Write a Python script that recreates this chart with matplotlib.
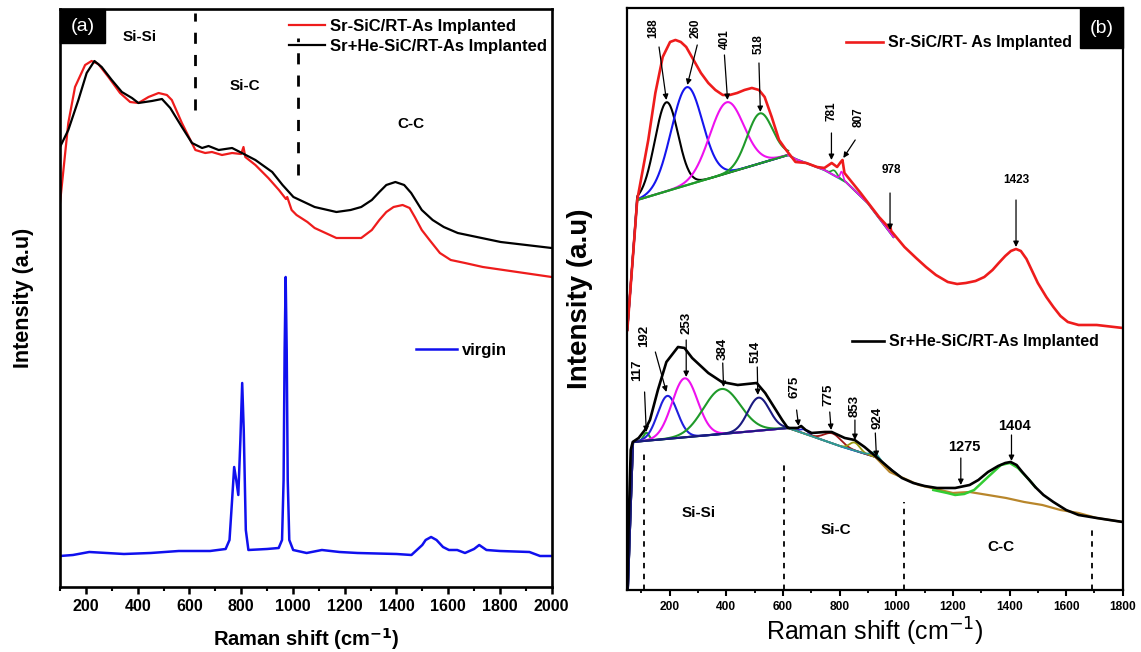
import numpy as np
import matplotlib.pyplot as plt
from matplotlib.patches import Rectangle

plt.rcParams['font.family'] = ['Liberation Sans', 'DejaVu Sans']

# ---------------- panel (a): full spectra ----------------
sr_x = [100, 132, 158, 197, 222, 248, 287, 332, 371, 403, 442, 481, 513, 532, 571, 623, 661,
        687, 726, 765, 800, 809, 816, 855, 905, 946, 973, 978, 995, 1014, 1056, 1084, 1126,
        1168, 1264, 1305, 1334, 1361, 1389, 1424, 1451, 1471, 1498, 1528, 1568, 1610, 1665,
        1734, 2000]
sr_y = [384, 464, 500, 522, 526, 523, 510, 494, 485, 484, 490, 494, 492, 487, 464, 437, 434,
        435, 432, 434, 433, 440, 430, 422, 409, 397, 388, 390, 377, 372, 365, 359, 354,
        349, 349, 357, 367, 375, 380, 382, 379, 370, 357, 347, 334, 327, 324,
        320, 310]

srhe_x = [100, 132, 171, 203, 233, 261, 300, 339, 378, 403, 455, 494, 526, 571, 610, 649, 674,
          713, 765, 803, 855, 920, 960, 1002, 1043, 1084, 1168, 1223, 1264, 1305, 1334, 1361,
          1396, 1430, 1457, 1498, 1540, 1583, 1637, 1803, 2000]
srhe_y = [440, 457, 487, 514, 526, 520, 507, 495, 489, 484, 486, 488, 479, 460, 444, 439, 441,
          437, 439, 434, 427, 415, 402, 390, 385, 380, 375, 377, 380, 387, 395, 402,
          405, 402, 394, 377, 367, 360, 354, 345, 339]

virgin_x = [100, 150, 213, 280, 347, 450, 559, 680, 740, 755, 765, 773, 781, 789, 797, 804, 810,
            818, 828, 900, 945, 958, 964, 968, 972, 976, 980, 986, 1001, 1053, 1112, 1180,
            1250, 1400, 1458, 1479, 1500, 1513, 1534, 1555, 1580, 1603, 1635, 1665, 1700,
            1720, 1748, 1800, 1914, 1955, 2000]
virgin_y = [31, 32, 35, 34, 33, 34, 36, 36, 38, 47, 87, 120, 107, 92, 147, 204, 157,
            57, 37, 38, 39, 47, 107, 237, 310, 237, 107, 47, 37, 34, 37, 35,
            34, 33, 32, 37, 42, 47, 50, 47, 40, 37, 37, 34, 38,
            42, 37, 36, 35, 31, 31]

a_bounds = [620, 1020]
a_bound_lo = [477, 412]
a_bound_hi = [574, 549]
a_regions = ['Si-Si', 'Si-C', 'C-C']
a_region_x = [407, 815, 1455]
a_region_y = [550, 501, 463]

# ---------------- panel (b): deconvoluted spectra ----------------
up_x = [50, 85, 124, 149, 175, 201, 220, 239, 258, 284, 310, 336, 361, 387, 412, 438, 464,
        490, 515, 535, 560, 586, 611, 644, 682, 720, 746, 772, 791, 804, 810, 817, 874,
        939, 975, 978, 982, 1029, 1070, 1105, 1140, 1182, 1215, 1246, 1280, 1311, 1340,
        1362, 1385, 1405, 1423, 1440, 1460, 1480, 1500, 1530, 1555, 1580, 1606, 1644,
        1708, 1800]
up_y = [260, 390, 450, 497, 533, 548, 550, 548, 543, 530, 517, 507, 500, 495, 495, 497, 500,
        502, 500, 493, 473, 450, 440, 428, 427, 423, 422, 427, 423, 428, 430, 417, 397,
        373, 362, 365, 359, 343, 332, 323, 315, 308, 306, 307, 309, 313, 320,
        327, 334, 339, 341, 339, 331, 319, 307, 293, 283, 274, 268, 265,
        265, 262]

up_base_x = [50, 85, 618]
up_base_y = [260, 390, 435]
up_peaks = [188, 260, 401, 518]
up_amp = [89, 98, 71, 50]
up_sigma = [41, 55, 60, 45]
up_colors = ['black', '#1515ee', '#ee11ee', '#1f9a2a']

# fit background above 600 cm-1 for the upper spectrum
up_tail_x = [618, 644, 700, 746, 822, 899, 990]
up_tail_y = [435, 431, 425, 420, 408, 387, 353]
up_small_peaks = [781, 807]
up_small_amp = [5, 8]
up_small_sigma = [10, 5]
up_small_colors = ['#1f9a2a', '#ee11ee']

lo_x = [50, 55, 62, 69, 90, 112, 130, 158, 188, 229, 252, 279, 336, 384, 440, 507, 537, 597,
        617, 652, 664, 680, 701, 748, 772, 818, 853, 888, 934, 983, 1020, 1060, 1100,
        1144, 1208, 1259, 1290, 1324, 1360, 1385, 1404, 1425, 1445, 1470, 1491, 1520,
        1555, 1600, 1644, 1708, 1800]
lo_y = [0, 70, 140, 148, 152, 160, 170, 200, 228, 243, 242, 232, 217, 208, 205, 207, 197, 170,
        162, 162, 164, 160, 157, 158, 158, 152, 150, 143, 132, 120, 112, 107, 104,
        102, 102, 105, 110, 118, 124, 127, 128, 125, 118, 110, 103, 95,
        88, 80, 75, 72, 68]

lo_base_x = [52, 70, 618]
lo_base_y = [0, 148, 162]
lo_peaks = [117, 192, 253, 384, 514]
lo_amp = [8, 43, 59, 45, 33]
lo_sigma = [10, 35, 45, 65, 38]
lo_colors = ['#1f9a2a', '#2020dd', '#ee11ee', '#1f9a2a', '#1a1a80']

lo_mid_base_x = [618, 700, 800, 927, 1000]
lo_mid_base_y = [162, 154, 144, 133, 116]
lo_mid_peaks = [675, 775, 853, 924]
lo_mid_amp = [4, 10, 8, 4]
lo_mid_sigma = [15, 30, 18, 15]
lo_mid_colors = ['#2020dd', '#a01818', '#9a9a10', '#2a9a9a']

brown_x = [926, 977, 1080, 1200, 1259, 1324, 1388, 1452, 1516, 1580, 1644, 1708, 1800]
brown_y = [133, 118, 105, 97, 98, 95, 92, 88, 85, 80, 77, 72, 68]

cc_fit_x = [1131, 1180, 1208, 1240, 1275, 1324, 1370, 1401, 1430, 1470, 1491]
cc_fit_y = [100, 97, 95, 96, 100, 113, 125, 127, 122, 110, 103]

b_bounds = [110, 605, 1026, 1693]
b_bound_hi = [137, 127, 88, 60]
b_regions = ['Si-Si', 'Si-C', 'C-C']
b_region_x = [303, 788, 1369]
b_region_y = [77, 60, 43]

# peak labels: text, text position, arrow tail, arrow head, rotation
up_labels = ['188', '260', '401', '518', '781', '807', '978', '1423']
up_text_x = [143, 290, 393, 515, 771, 868, 983, 1424]
up_text_y = [562, 562, 551, 546, 479, 473, 420, 410]
up_tail = [(162, 543), (297, 545), (393, 535), (515, 527), (771, 457), (855, 450), (978, 397), (1423, 390)]
up_head = [(188, 490), (262, 505), (404, 490), (520, 478), (771, 430), (813, 432), (978, 360), (1423, 343)]
up_rot = [90, 90, 90, 90, 90, 90, 0, 0]

lo_labels = ['117', '192', '253', '384', '514', '675', '775', '853', '924', '1275', '1404']
lo_text_x = [85, 111, 258, 387, 502, 641, 759, 854, 932, 1241, 1416]
lo_text_y = [220, 254, 267, 241, 238, 203, 195, 184, 172, 143, 164]
lo_tail = [(111, 198), (149, 238), (258, 250), (387, 227), (509, 223), (648, 180), (765, 178),
           (854, 170), (926, 157), (1228, 132), (1407, 155)]
lo_head = [(117, 158), (188, 198), (258, 213), (390, 203), (511, 195), (655, 164), (770, 160),
           (854, 150), (930, 133), (1228, 105), (1407, 129)]
lo_rot = [90, 90, 90, 90, 90, 90, 90, 90, 90, 0, 0]


def component(x, base_x, base_y, centre, amp, sigma):
    return np.interp(x, base_x, base_y) + amp * np.exp(-0.5 * ((x - centre) / sigma) ** 2)


fig = plt.figure(figsize=(11.41, 6.52), dpi=100)
ax1 = fig.add_axes([0.0526, 0.0997, 0.4309, 0.8865])
ax2 = fig.add_axes([0.5498, 0.0951, 0.4342, 0.8919])

# ---- (a)
ax1.plot(sr_x, sr_y, color='#ee1c1c', lw=1.6, label='Sr-SiC/RT-As Implanted')
ax1.plot(srhe_x, srhe_y, color='black', lw=1.6, label='Sr+He-SiC/RT-As Implanted')
vline, = ax1.plot(virgin_x, virgin_y, color='#1010ee', lw=1.8, label='virgin')
for xb, lo, hi in zip(a_bounds, a_bound_lo, a_bound_hi):
    ax1.plot([xb, xb], [lo, hi], color='black', lw=2, ls=(0, (4, 4)))
for t, xt, yt in zip(a_regions, a_region_x, a_region_y):
    ax1.text(xt, yt, t, fontsize=11, fontweight='bold', ha='center', va='center')

h, l = ax1.get_legend_handles_labels()
leg1 = ax1.legend(h[:2], l[:2], loc='upper left', bbox_to_anchor=(0.466, 0.983), frameon=False,
                  prop={'weight': 'bold', 'size': 12}, handlelength=2.15, handletextpad=0.3,
                  borderpad=0, borderaxespad=0, labelspacing=0.3)
ax1.add_artist(leg1)
ax1.legend([vline], ['virgin'], loc='upper left', bbox_to_anchor=(0.724, 0.422), frameon=False,
           prop={'weight': 'bold', 'size': 12}, handlelength=2.45, handletextpad=0.3,
           borderpad=0, borderaxespad=0)

ax1.set_xlim(100, 2000)
ax1.set_ylim(0, 578)
ax1.set_xticks(np.arange(200, 2001, 200))
ax1.set_xticks(np.arange(100, 2001, 100), minor=True)
ax1.set_xticklabels([str(v) for v in range(200, 2001, 200)], fontweight='bold', fontsize=11.5)
ax1.set_yticks([])
ax1.tick_params(axis='x', which='major', direction='out', length=5, width=1.8, pad=4)
ax1.tick_params(axis='x', which='minor', direction='out', length=3, width=1.5)
for s in ax1.spines.values():
    s.set_linewidth(1.9)
ax1.set_xlabel('Raman shift (cm$^{\\mathbf{-1}}$)', fontsize=14.5, fontweight='bold', labelpad=8)
ax1.set_ylabel('Intensity (a.u)', fontsize=15.5, fontweight='bold', labelpad=19)
ax1.add_patch(Rectangle((0, 0.941), 0.0915, 0.059, transform=ax1.transAxes,
                        facecolor='black', edgecolor='black', zorder=5, clip_on=False))
ax1.text(0.0457, 0.970, '(a)', transform=ax1.transAxes, color='white', fontsize=14,
         ha='center', va='center', zorder=6)

# ---- (b)
xs = np.linspace(50, 618, 400)
for c, a, s, col in zip(up_peaks, up_amp, up_sigma, up_colors):
    ax2.plot(xs, component(xs, up_base_x, up_base_y, c, a, s), color=col, lw=1.5)
ax2.plot(up_base_x[1:], up_base_y[1:], color='#1f9a2a', lw=1.5)
xt = np.linspace(618, 990, 300)
ax2.plot(up_tail_x, up_tail_y, color='#2a9a9a', lw=1.6)
for c, a, s, col in zip(up_small_peaks, up_small_amp, up_small_sigma, up_small_colors):
    ax2.plot(xt, component(xt, up_tail_x, up_tail_y, c, a, s), color=col, lw=1.2)
ax2.plot(up_x, up_y, color='#ee1c1c', lw=1.9, label='Sr-SiC/RT- As Implanted')

xl = np.linspace(52, 618, 400)
for c, a, s, col in zip(lo_peaks, lo_amp, lo_sigma, lo_colors):
    ax2.plot(xl, component(xl, lo_base_x, lo_base_y, c, a, s), color=col, lw=1.5)
ax2.plot(lo_base_x, lo_base_y, color='#1a1a80', lw=1.4)
xm = np.linspace(618, 1000, 300)
ax2.plot(lo_mid_base_x, lo_mid_base_y, color='#3a7fc0', lw=1.4)
for c, a, s, col in zip(lo_mid_peaks, lo_mid_amp, lo_mid_sigma, lo_mid_colors):
    ax2.plot(xm, component(xm, lo_mid_base_x, lo_mid_base_y, c, a, s), color=col, lw=1.3)
ax2.plot(brown_x, brown_y, color='#b8862b', lw=1.6)
ax2.plot(cc_fit_x, cc_fit_y, color='#33cc33', lw=1.8)
ax2.plot(lo_x, lo_y, color='black', lw=1.9, label='Sr+He-SiC/RT-As Implanted')

for xb, hi in zip(b_bounds, b_bound_hi):
    ax2.plot([xb, xb], [0, hi], color='black', lw=1.3, ls=(0, (3, 3)))
for t, xr, yr in zip(b_regions, b_region_x, b_region_y):
    ax2.text(xr, yr, t, fontsize=11, fontweight='bold', ha='center', va='center')

arrow = dict(arrowstyle='-|>', color='black', lw=0.9, mutation_scale=8, shrinkA=0, shrinkB=0)
for t, xt_, yt_, tail, head, r in zip(up_labels, up_text_x, up_text_y, up_tail, up_head, up_rot):
    ax2.annotate('', xy=head, xytext=tail, arrowprops=arrow)
    ax2.text(xt_, yt_, t, rotation=r, fontsize=8.5, fontweight='bold', ha='center', va='center')
for t, xt_, yt_, tail, head, r in zip(lo_labels, lo_text_x, lo_text_y, lo_tail, lo_head, lo_rot):
    ax2.annotate('', xy=head, xytext=tail, arrowprops=arrow)
    size = 10.5 if r == 0 else 9.5
    ax2.text(xt_, yt_, t, rotation=r, fontsize=size, fontweight='bold', ha='center', va='center')

h2, l2 = ax2.get_legend_handles_labels()
leg2 = ax2.legend([h2[0]], [l2[0]], loc='upper left', bbox_to_anchor=(0.4415, 0.954), frameon=False,
                  prop={'weight': 'bold', 'size': 11.5}, handlelength=2.3, handletextpad=0.3,
                  borderpad=0, borderaxespad=0)
ax2.add_artist(leg2)
ax2.legend([h2[1]], [l2[1]], loc='upper left', bbox_to_anchor=(0.4535, 0.440), frameon=False,
           prop={'weight': 'bold', 'size': 11.5}, handlelength=2.0, handletextpad=0.3,
           borderpad=0, borderaxespad=0)

ax2.set_xlim(50, 1800)
ax2.set_ylim(0, 581.5)
ax2.set_xticks(np.arange(200, 1801, 200))
ax2.set_xticks(np.arange(100, 1801, 100), minor=True)
ax2.set_xticklabels([str(v) for v in range(200, 1801, 200)], fontweight='bold', fontsize=8.6)
ax2.set_yticks([])
ax2.tick_params(axis='x', which='major', direction='out', length=4, width=1.5, pad=4)
ax2.tick_params(axis='x', which='minor', direction='out', length=2.5, width=1.3)
for s in ax2.spines.values():
    s.set_linewidth(1.6)
ax2.set_xlabel('Raman shift (cm$^{-1}$)', fontsize=18, labelpad=2)
ax2.set_ylabel('Intensity (a.u)', fontsize=20, fontweight='bold', labelpad=25)
ax2.add_patch(Rectangle((0.914, 0.932), 0.086, 0.068, transform=ax2.transAxes,
                        facecolor='black', edgecolor='black', zorder=5, clip_on=False))
ax2.text(0.957, 0.966, '(b)', transform=ax2.transAxes, color='white', fontsize=14,
         ha='center', va='center', zorder=6)

fig.savefig('out.png', dpi=100)
